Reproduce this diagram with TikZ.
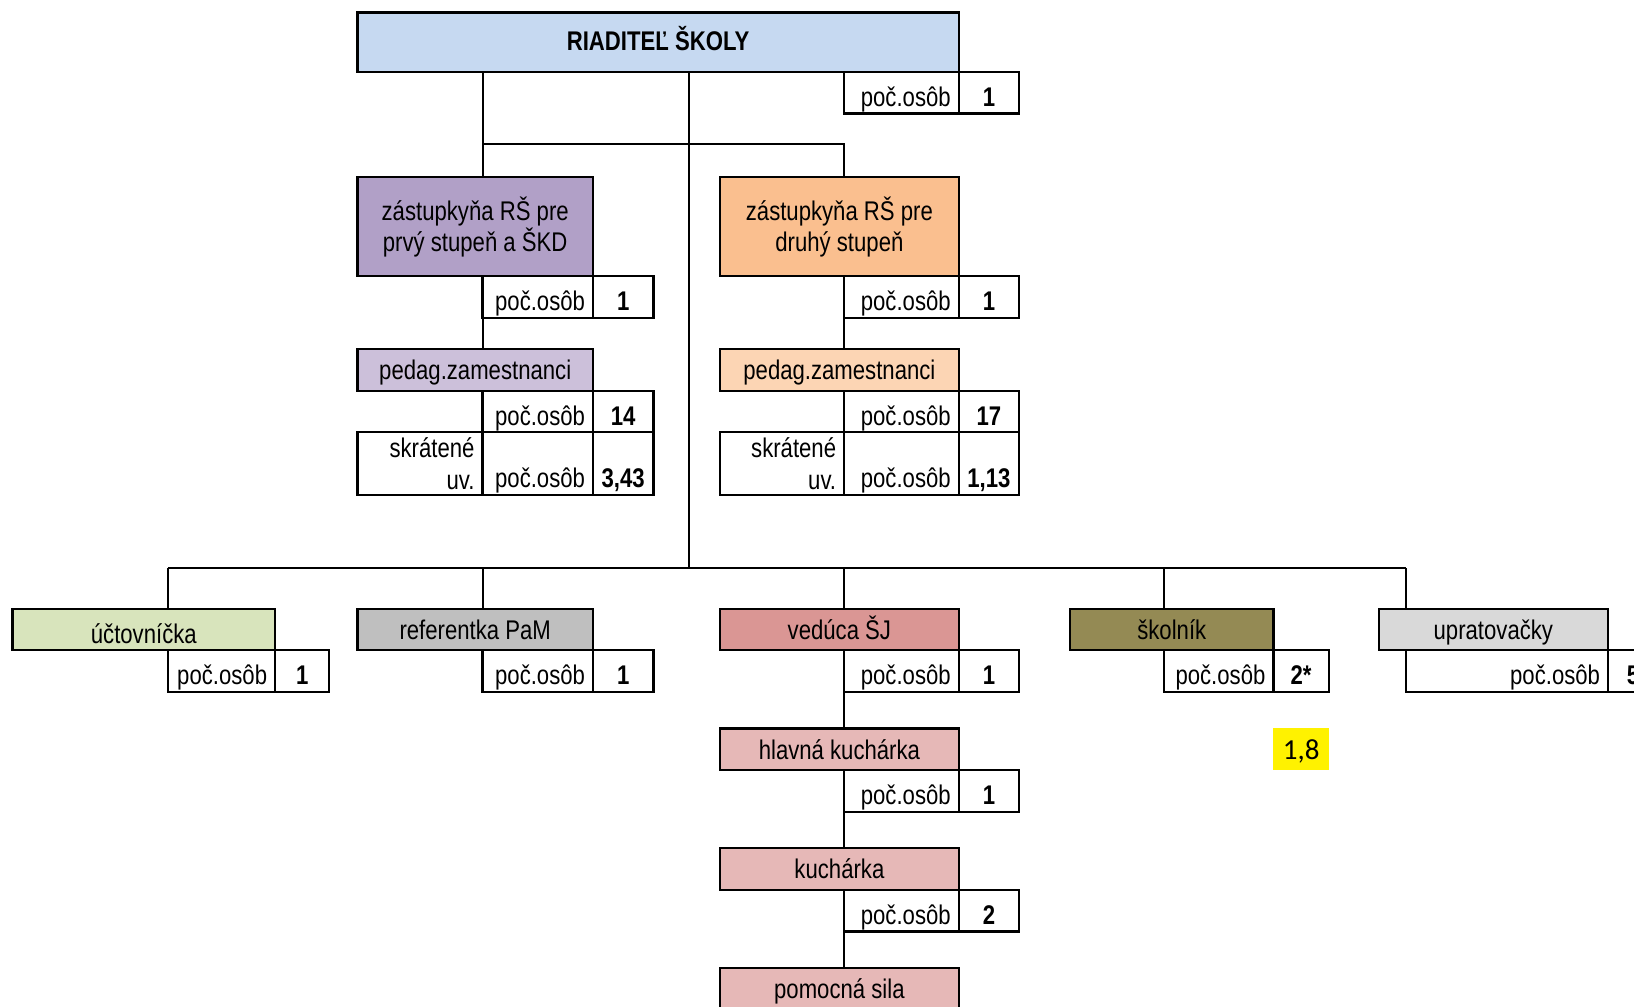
\documentclass[tikz,border=0pt]{standalone}
\usepackage{fontspec}
\setmainfont{Liberation Sans}[FakeStretch=0.82]
\newfontfamily\calfont{Carlito}
\usetikzlibrary{positioning}
\definecolor{dirblue}{RGB}{198,217,241}
\definecolor{deppurple}{RGB}{177,160,199}
\definecolor{pedpurple}{RGB}{204,192,218}
\definecolor{deporange}{RGB}{250,191,143}
\definecolor{pedorange}{RGB}{252,213,180}
\definecolor{uctogreen}{RGB}{216,228,188}
\definecolor{refgray}{RGB}{191,191,191}
\definecolor{vedred}{RGB}{218,150,148}
\definecolor{kuchred}{RGB}{230,184,183}
\definecolor{skololive}{RGB}{148,138,84}
\definecolor{upratgray}{RGB}{217,217,217}

\begin{document}
\begin{tikzpicture}[x=1pt, y=-1pt,
  cell/.style={draw, line width=2.2pt, inner sep=0pt, outer sep=0pt,
               font=\fontsize{27}{31.3}\selectfont},
  unit/.style={cell, anchor=north west, minimum height=41.7pt,
               text height=25.5pt, text depth=6pt},
  head/.style={cell, anchor=north west, minimum height=99pt, align=center},
  cntL/.style={cell, anchor=north west, minimum height=41.5pt,
               text height=28pt, text depth=0.5pt,
               inner xsep=8pt, text width=#1, align=right},
  cntV/.style={cell, right=0pt of #1, minimum height=41.5pt,
               text height=28pt, text depth=0.5pt,
               font=\fontsize{27}{31.3}\selectfont\bfseries},
  tall/.style={minimum height=62.5pt, text height=49pt},
  link/.style={line width=2pt},
  bus/.style={line width=2.6pt}]
  \clip (0,0) rectangle (1634,1007);

  % riaditel
  \node[unit, fill=dirblue, minimum width=601.3pt, minimum height=59.4pt,
        text height=23pt, font=\fontsize{27}{31.3}\selectfont\bfseries] (dir) at (357.4,12.5) {RIADITEĽ ŠKOLY};
  \node[cntL=98.6pt] (Ldir) at (844.1,71.9) {poč.osôb};
  \node[cntV=Ldir, minimum width=60.5pt] (Vdir) {1};

  % zastupkyne
  \node[head, fill=deppurple, minimum width=235.6pt] (dep1) at (357.4,177.2)
       {zástupkyňa RŠ pre\\prvý stupeň a ŠKD};
  \node[cntL=94.5pt] (Ldep1) at (482.5,276.2) {poč.osôb};
  \node[cntV=Ldep1, minimum width=60.4pt] (Vdep1) {1};
  \node[head, fill=deporange, minimum width=238.6pt] (dep2) at (720.1,177.2)
       {zástupkyňa RŠ pre\\druhý stupeň};
  \node[cntL=98.6pt] (Ldep2) at (844.1,276.2) {poč.osôb};
  \node[cntV=Ldep2, minimum width=60.5pt] (Vdep2) {1};

  % pedag. zamestnanci
  \node[unit, fill=pedpurple, minimum width=235.6pt] (ped1) at (357.4,349.1) {pedag.zamestnanci};
  \node[cntL=94.5pt] (Lped1) at (482.5,390.8) {poč.osôb};
  \node[cntV=Lped1, minimum width=60.4pt] (Vped1) {14};
  \node[cell, anchor=north west, minimum height=62.5pt, inner xsep=8pt,
        text width=109.1pt, align=right] (Sped1) at (Lped1.south -| ped1.west) {skrátené\\uv.};
  \node[cntL=94.5pt, tall, right=0pt of Sped1] (Kped1) {poč.osôb};
  \node[cntV=Kped1, tall, minimum width=60.4pt] (Wped1) {3,43};

  \node[unit, fill=pedorange, minimum width=238.6pt] (ped2) at (720.1,349.1) {pedag.zamestnanci};
  \node[cntL=98.6pt] (Lped2) at (844.1,390.8) {poč.osôb};
  \node[cntV=Lped2, minimum width=60.5pt] (Vped2) {17};
  \node[cell, anchor=north west, minimum height=62.5pt, inner xsep=8pt,
        text width=108pt, align=right] (Sped2) at (Lped2.south -| ped2.west) {skrátené\\uv.};
  \node[cntL=98.6pt, tall, right=0pt of Sped2] (Kped2) {poč.osôb};
  \node[cntV=Kped2, tall, minimum width=60.5pt] (Wped2) {1,13};

  % dolny rad
  \node[unit, fill=uctogreen, minimum width=262.6pt, text height=30pt, text depth=1.5pt]
       (ucto) at (12.5,608.6) {účtovníčka};
  \node[cntL=91.3pt] (Lucto) at (167.8,650.3) {poč.osôb};
  \node[cntV=Lucto, minimum width=54.2pt] (Vucto) {1};

  \node[unit, fill=refgray, minimum width=235.6pt] (ref) at (357.4,608.6) {referentka PaM};
  \node[cntL=94.5pt] (Lref) at (482.5,650.3) {poč.osôb};
  \node[cntV=Lref, minimum width=60.4pt] (Vref) {1};

  \node[unit, fill=vedred, minimum width=238.6pt] (ved) at (720.1,608.6) {vedúca ŠJ};
  \node[cntL=98.6pt] (Lved) at (844.1,650.3) {poč.osôb};
  \node[cntV=Lved, minimum width=60.5pt] (Vved) {1};

  \node[unit, fill=skololive, minimum width=203.2pt] (skol) at (1070.2,608.6) {školník};
  \node[cntL=93.4pt] (Lskol) at (1164,650.3) {poč.osôb};
  \node[cntV=Lskol, minimum width=55.3pt] (Vskol) {2*};

  \node[unit, fill=upratgray, minimum width=229.3pt] (uprat) at (1378.7,608.6) {upratovačky};
  \node[cntL=186.2pt] (Luprat) at (1405.8,650.3) {poč.osôb};
  \node[cntV=Luprat, minimum width=50pt] (Vuprat) {5};

  \node[fill=yellow, anchor=north west, minimum width=56pt, minimum height=42pt,
        inner sep=0pt, text height=21pt, text depth=0pt,
        font=\calfont\fontsize{29}{32}\selectfont] (note) at (1273,728) {1,8};

  % skolska jedalen
  \node[unit, fill=kuchred, minimum width=238.6pt] (hlk) at (720.1,728.4) {hlavná kuchárka};
  \node[cntL=98.6pt] (Lhlk) at (844.1,770.1) {poč.osôb};
  \node[cntV=Lhlk, minimum width=60.5pt] (Vhlk) {1};
  \node[unit, fill=kuchred, minimum width=238.6pt] (kuch) at (720.1,848.3) {kuchárka};
  \node[cntL=98.6pt] (Lkuch) at (844.1,890) {poč.osôb};
  \node[cntV=Lkuch, minimum width=60.5pt] (Vkuch) {2};
  \node[unit, fill=kuchred, minimum width=238.6pt] (pom) at (720.1,968.1) {pomocná sila};

  % spojnice
  \coordinate (fork) at (688.8,143.8);
  \coordinate (trunk) at (688.8,568);
  \draw[link] (Ldep1.west |- dir.south) -- (Ldep1.west |- dep1.north);
  \draw[link] (fork -| Ldep1.west) -- (fork -| Ldep2.west) -- (Ldep2.west |- dep2.north);
  \draw[link] (fork |- dir.south) -- (trunk);
  \draw[bus] (trunk -| Lucto.west) -- (trunk -| Luprat.west);
  \foreach \n in {ucto,ref,ved,skol,uprat}
    \draw[link] (trunk -| L\n.west) -- (L\n.west |- \n.north);
  \draw[link] (Ldep1.south west) -- (Ldep1.west |- ped1.north);
  \draw[link] (Ldep2.south west) -- (Ldep2.west |- ped2.north);
  \draw[link] (Lved.south west) -- (Lved.west |- hlk.north);
  \draw[link] (Lhlk.south west) -- (Lhlk.west |- kuch.north);
  \draw[link] (Lkuch.south west) -- (Lkuch.west |- pom.north);
\end{tikzpicture}
\end{document}
